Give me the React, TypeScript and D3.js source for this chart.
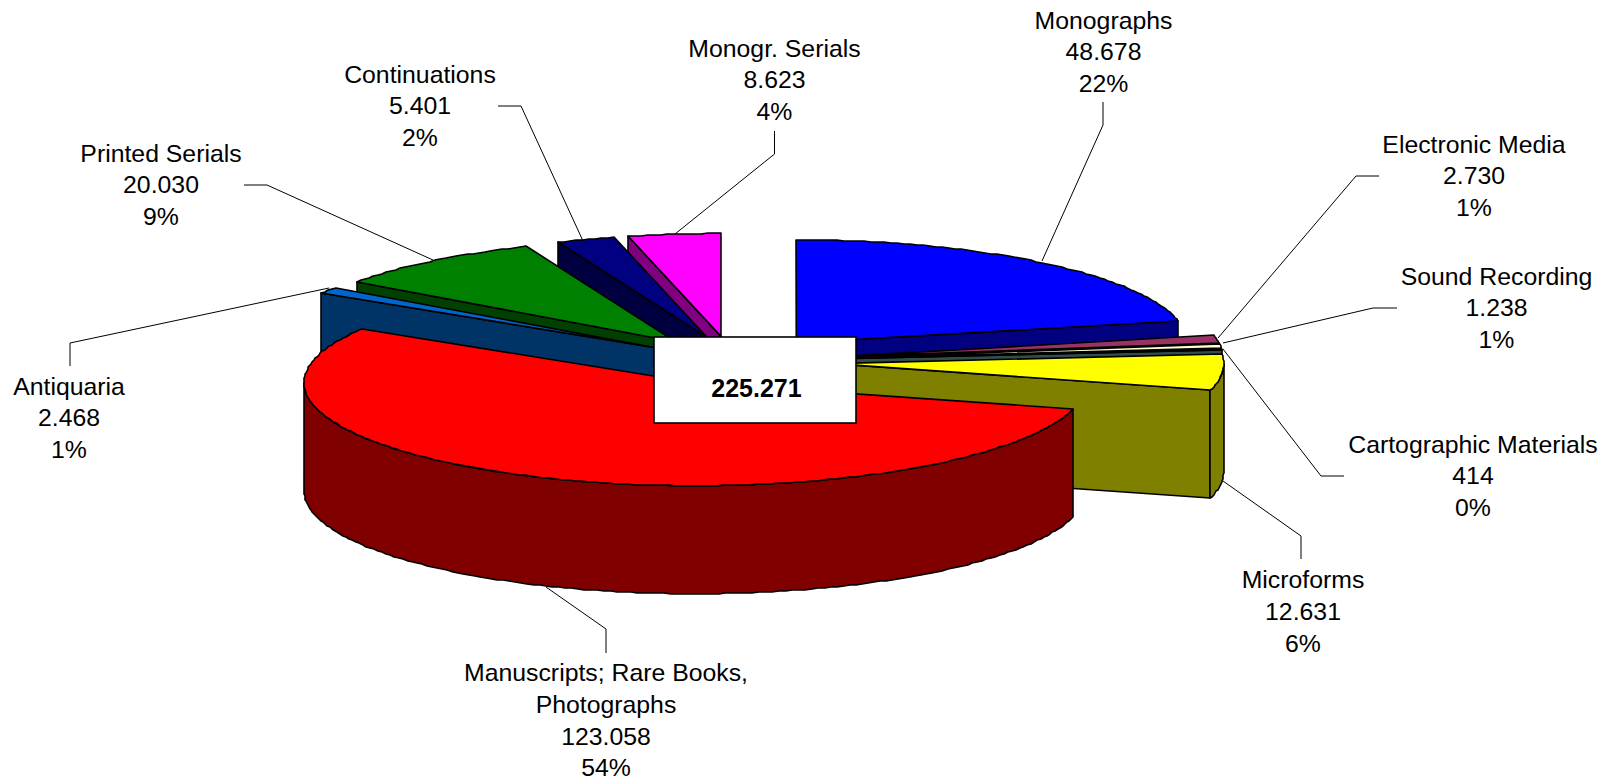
import React from "react";
import * as d3 from "d3";

const categories = ["Monographs", "Electronic Media", "Sound Recording", "Cartographic Materials", "Microforms", "Manuscripts; Rare Books,|Photographs", "Antiquaria", "Printed Serials", "Continuations", "Monogr. Serials"];
const seriesValues = [48678, 2730, 1238, 414, 12631, 123058, 2468, 20030, 5401, 8623];
const valueLabels = ["48.678", "2.730", "1.238", "414", "12.631", "123.058", "2.468", "20.030", "5.401", "8.623"];
const percentLabels = ["22%", "1%", "1%", "0%", "6%", "54%", "1%", "9%", "2%", "4%"];
const topColors = ["#0000FF", "#993366", "#FFFFCC", "#669999", "#FFFF00", "#FF0000", "#0066CC", "#008000", "#000080", "#FF00FF"];
const wallColors = ["#000080", "#4D1933", "#808066", "#334D4D", "#808000", "#800000", "#003366", "#004000", "#000040", "#800080"];
const totalLabel = "225.271";

const labelCenters: [number, number][] = [[1103.5, 20], [1474, 144], [1496.5, 276], [1473, 444], [1303, 579.5], [606, 672.5], [69, 386], [161, 153], [420, 74], [774.5, 48]];
const leaders: [number, number][][] = [
  [[1103, 102], [1103, 125], [1042, 261]],
  [[1379, 176], [1356, 176], [1218, 338]],
  [[1397, 308], [1373, 308], [1223, 343]],
  [[1344, 476], [1321, 476], [1223, 349]],
  [[1301, 559], [1301, 536], [1223, 481]],
  [[606, 653], [606, 629], [546, 587]],
  [[70, 366], [70, 343], [329, 288]],
  [[244, 185], [267, 185], [433, 260]],
  [[498, 106], [521, 106], [583, 241]],
  [[774.5, 131], [774.5, 154], [675, 234]],
];
const drawOrder = [9, 8, 7, 6, 0, 1, 2, 3, 4, 5];
// small per-slice corrections of the explosion
const sliceNudgeX = [1, 2, 2, 2, 2, -2, -1, 0, 2, -2.5];
const sliceNudgeY = [1, 0, 0, 0, 0, -2, 0, 0, 0, 0];

const CX = 735, CY = 361.5, RX = 391, RY = 103, EXPLODE = 96, DEPTH = 108;
const LINE_H = 31.8;
const FONT = "'Liberation Sans', Arial, sans-serif";

const unitX = d3.scaleLinear().domain([-1, 1]).range([-RX, RX]);
const unitY = d3.scaleLinear().domain([-1, 1]).range([-RY, RY]);
const path = d3.line<[number, number]>();

export default function App() {
  const arcs = d3.pie<number>().sort(null)(seriesValues);
  const H = Math.PI / 2;
  const slices = arcs.map((a, i) => {
    const mid = (a.startAngle + a.endAngle) / 2;
    const ax = CX + (unitX(Math.sin(mid)) * EXPLODE) / RX + sliceNudgeX[i];
    const ay = CY - (unitY(Math.cos(mid)) * EXPLODE) / RX + sliceNudgeY[i];
    const pt = (t: number, d = 0): [number, number] => [Math.round(ax + unitX(Math.sin(t))), Math.round(ay - unitY(Math.cos(t)) + d)];
    const apex = (d = 0): [number, number] => [ax, ay + d];
    const rim = (s: number, e: number) => d3.range(0, 1.0001, 1 / Math.max(2, Math.ceil(((e - s) * 180) / Math.PI))).map((f) => s + (e - s) * f);
    return { a, pt, apex, rim };
  });

  const renderSlice = (i: number) => {
    const { a, pt, apex, rim } = slices[i];
    const s = a.startAngle, e = a.endAngle;
    const walls: string[] = [];
    if (e <= Math.PI && e > 0 && i <= 4) walls.push(path([apex(), pt(e), pt(e, DEPTH), apex(DEPTH)]) + "Z");
    if (s >= Math.PI && i !== 5) walls.push(path([apex(), pt(s), pt(s, DEPTH), apex(DEPTH)]) + "Z");
    const fs = Math.max(s, H), fe = Math.min(e, 3 * H);
    if (fe > fs) {
      const ts = rim(fs, fe);
      walls.push(path([...ts.map((t) => pt(t)), ...ts.slice().reverse().map((t) => pt(t, DEPTH))]) + "Z");
    }
    const top = path([apex(), ...rim(s, e).map((t) => pt(t))]) + "Z";
    return (
      <g key={i}>
        {walls.map((d, k) => (
          <path key={k} d={d} fill={wallColors[i]} stroke="#000" strokeWidth={1.6} strokeLinejoin="round" />
        ))}
        <path d={top} fill={topColors[i]} stroke="#000" strokeWidth={1.6} strokeLinejoin="round" />
      </g>
    );
  };

  return (
    <svg width={1617} height={781} style={{ position: "absolute", left: 0, top: 0, display: "block", background: "#fff" }}>
      {drawOrder.map(renderSlice)}
      <rect x={654} y={337} width={202} height={86} fill="#fff" stroke="#000" strokeWidth={1.6} />
      <text x={756.5} y={388} dy={8.5} textAnchor="middle" fontFamily={FONT} fontWeight="bold" fontSize={25} fill="#000">
        {totalLabel}
      </text>
      {leaders.map((l, i) => (
        <path key={i} d={path(l)!} fill="none" stroke="#000" strokeWidth={1} />
      ))}
      {categories.map((c, i) => {
        const lines = [...c.split("|"), valueLabels[i], percentLabels[i]];
        return (
          <text key={i} textAnchor="middle" fontFamily={FONT} fontSize={24.8} fill="#000">
            {lines.map((t, k) => (
              <tspan key={k} x={labelCenters[i][0]} y={labelCenters[i][1] + 8.5 + k * LINE_H}>
                {t}
              </tspan>
            ))}
          </text>
        );
      })}
    </svg>
  );
}
